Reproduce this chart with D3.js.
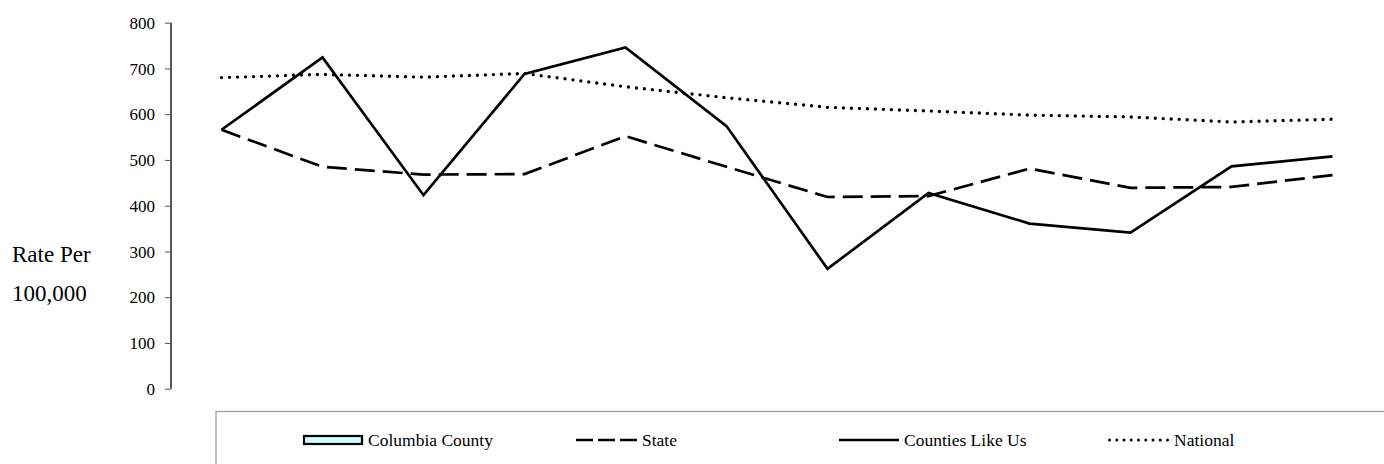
<!DOCTYPE html>
<html><head><meta charset="utf-8">
<script src="https://cdn.jsdelivr.net/npm/d3@7"></script>
<style>body{margin:0;background:#fff}svg{display:block}</style>
</head><body><svg id="c" width="1384" height="464"></svg>
<script>
const periods = ["1","2","3","4","5","6","7","8","9","10","11","12"];
const columbia = [];
const state = [566,485,468,469,552,485,419,421,481,439,441,467];
const countiesLikeUs = [566,724,423,688,746,574,262,428,361,341,486,508];
const national = [680,687,681,689,660,636,615,607,598,594,583,589];
const yTicks = [0,100,200,300,400,500,600,700,800];
const legendLabels = ["Columbia County","State","Counties Like Us","National"];

const FONT = '"Liberation Serif","Times New Roman",serif';
const svg = d3.select("#c");
const x = d3.scalePoint().domain(periods).range([171,1383]).padding(0.5);
const y = d3.scaleLinear().domain([0,800]).range([388.7,22.7]);

const ax = svg.append("g").attr("transform","translate(171,0)")
  .call(d3.axisLeft(y).tickValues(yTicks).tickSize(6).tickPadding(10).tickFormat(d3.format("d")));
ax.attr("font-family",FONT).attr("font-size",17);
ax.select(".domain").attr("stroke","#000").attr("stroke-width",1.3).attr("d","M0,22.7V388.7");
ax.selectAll(".tick line").attr("stroke","#555");
ax.selectAll(".tick text").style("font-family",FONT).style("font-size","17px").attr("fill","#000").attr("dy","0.34em");

svg.append("text").attr("x",12).attr("y",262).style("font-family",FONT).style("font-size","23px").text("Rate Per");
svg.append("text").attr("x",12).attr("y",301).style("font-family",FONT).style("font-size","23px").text("100,000");

const line = d3.line().x((d,i)=>x(periods[i])).y(d=>y(d));
svg.append("path").datum(national).attr("d",line).attr("fill","none").attr("stroke","#000")
  .attr("stroke-width",3.4).attr("stroke-linecap","round").attr("stroke-dasharray","0,8");
svg.append("path").datum(state).attr("d",line).attr("fill","none").attr("stroke","#000")
  .attr("stroke-width",2.7).attr("stroke-dasharray","20,8");
svg.append("path").datum(countiesLikeUs).attr("d",line).attr("fill","none").attr("stroke","#000")
  .attr("stroke-width",2.7).attr("stroke-linejoin","miter");

// legend
const lg = svg.append("g");
lg.append("rect").attr("x",216).attr("y",411.5).attr("width",1180).attr("height",60)
  .attr("fill","#fff").attr("stroke","#999").attr("stroke-width",1.2);
const ly = 440;
lg.append("rect").attr("x",304).attr("y",436).attr("width",58).attr("height",8)
  .attr("fill","#ccffff").attr("stroke","#000").attr("stroke-width",2.2);
lg.append("line").attr("x1",576).attr("x2",637).attr("y1",ly).attr("y2",ly)
  .attr("stroke","#000").attr("stroke-width",2.7).attr("stroke-dasharray","17,5");
lg.append("line").attr("x1",839).attr("x2",899).attr("y1",ly).attr("y2",ly)
  .attr("stroke","#000").attr("stroke-width",2.7);
lg.append("line").attr("x1",1109.5).attr("x2",1168).attr("y1",ly).attr("y2",ly)
  .attr("stroke","#000").attr("stroke-width",3).attr("stroke-linecap","round").attr("stroke-dasharray","0,7.25");
const lx = [368,642,904,1174];
legendLabels.forEach((t,i)=>{
  lg.append("text").attr("x",lx[i]).attr("y",ly).attr("dy","0.34em")
    .style("font-family",FONT).style("font-size","17.5px").attr("fill","#000").text(t);
});
</script></body></html>
